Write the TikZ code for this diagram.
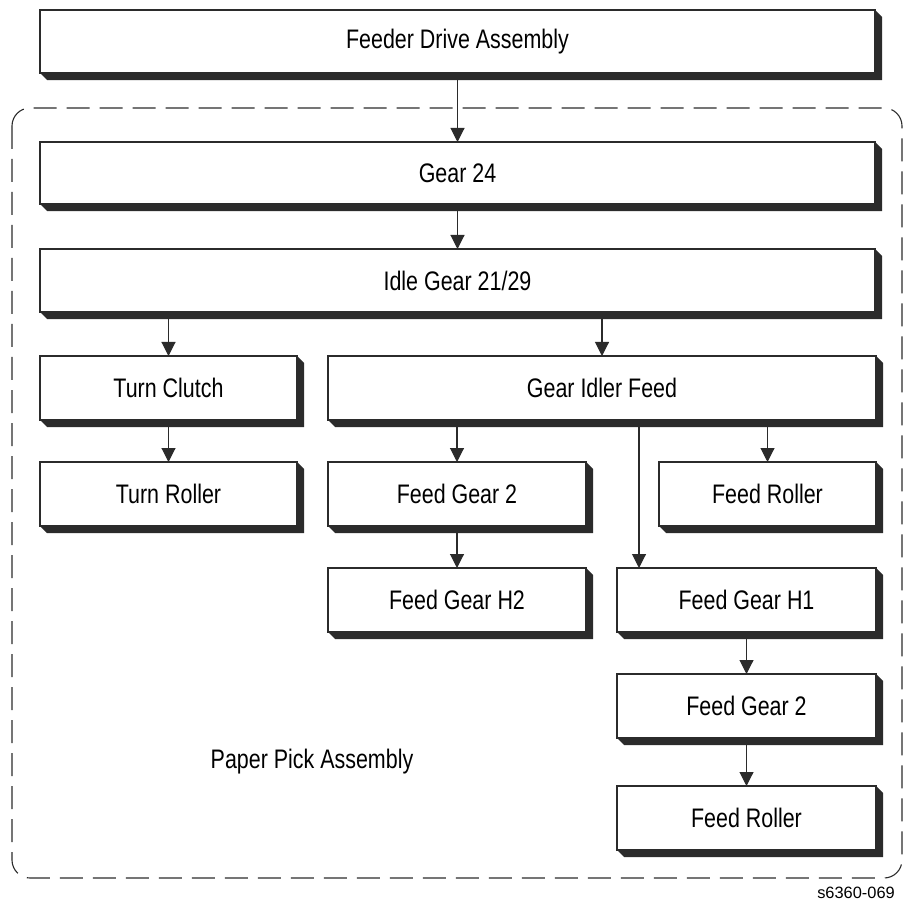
\documentclass[tikz,border=0pt]{standalone}
\usepackage{fontspec}
\setmainfont{Liberation Sans}[FakeStretch=0.8]
\newfontfamily\tagfont{Liberation Sans}
\usepackage{xcolor}
\usetikzlibrary{arrows.meta,positioning}
\definecolor{inkgrey}{HTML}{2b2b2b}

\begin{document}
\begin{tikzpicture}[
  x=0.5pt, y=-0.5pt,
  font=\fontsize{13.4}{15}\selectfont,
  box/.style={draw=inkgrey, line width=0.55pt, fill=white, anchor=north west,
              minimum height=32pt, inner sep=0pt, outer sep=0pt, align=center},
  ar/.style={-{Triangle[length=7pt,width=7pt]}, draw=inkgrey, line width=0.55pt},
  frame/.style={draw=inkgrey, line width=0.55pt, dash pattern=on 11.5pt off 5pt,
                rounded corners=9pt},
  lab/.style={inner sep=0pt}]
\useasboundingbox (0,0) rectangle (904,903);
\draw[frame] (12,108) rectangle (902,878);
\node[box, minimum width=417.5pt, minimum height=31.5pt] (fda) at (40,10) {Feeder Drive Assembly};
\node[box, minimum width=417.5pt, minimum height=31pt] (gear) at (40,142) {Gear 24};
\node[box, minimum width=417.5pt, minimum height=31.5pt] (idle) at (40,249) {Idle Gear 21/29};
\node[box, minimum width=128.5pt] (clutch) at (40,356) {Turn Clutch};
\node[box, minimum width=274pt] (idlerfeed) at (328,356) {Gear Idler Feed};
\node[box, minimum width=128.5pt] (turnroll) at (40,462) {Turn Roller};
\node[box, minimum width=129pt] (feedgear) at (328,462) {Feed Gear 2};
\node[box, minimum width=108.5pt] (feedroll) at (659,462) {Feed Roller};
\node[box, minimum width=129pt] (gearhtwo) at (328,568) {Feed Gear H2};
\node[box, minimum width=129.5pt] (gearhone) at (617,568) {Feed Gear H1};
\node[box, minimum width=129.5pt] (feedgearb) at (617,674) {Feed Gear 2};
\node[box, minimum width=129.5pt] (feedrollb) at (617,786) {Feed Roller};
% extruded shadows
\foreach \n in {fda,gear,idle,clutch,idlerfeed,turnroll,feedgear,feedroll,
                gearhtwo,gearhone,feedgearb,feedrollb}
  \fill[inkgrey] (\n.south west) -- ++(3.6pt,-3.6pt)
    -| ([shift={(3.6pt,-3.6pt)}]\n.north east) -- (\n.north east)
    -- (\n.south east) -- cycle;
\draw[ar] (fda) -- (gear);
\draw[ar] (gear) -- (idle);
\draw[ar] (idle.south -| clutch.north) -- (clutch.north);
\draw[ar] (idle.south -| idlerfeed.north) -- (idlerfeed.north);
\draw[ar] (clutch) -- (turnroll);
\draw[ar] (idlerfeed.south -| feedgear.north) -- (feedgear.north);
\draw[ar] (idlerfeed.south -| feedroll.north) -- (feedroll.north);
\draw[ar] ([xshift=11pt]idlerfeed.south -| gearhone.north west) -- ([xshift=11pt]gearhone.north west);
\draw[ar] (feedgear) -- (gearhtwo);
\draw[ar] (gearhone) -- (feedgearb);
\draw[ar] (feedgearb) -- (feedrollb);
\node[lab] (pick) at (312,762) {Paper Pick Assembly};
\node[lab, font=\tagfont\fontsize{8.2}{10}\selectfont] (tag) at (856,893) {s6360-069};
\end{tikzpicture}
\end{document}
